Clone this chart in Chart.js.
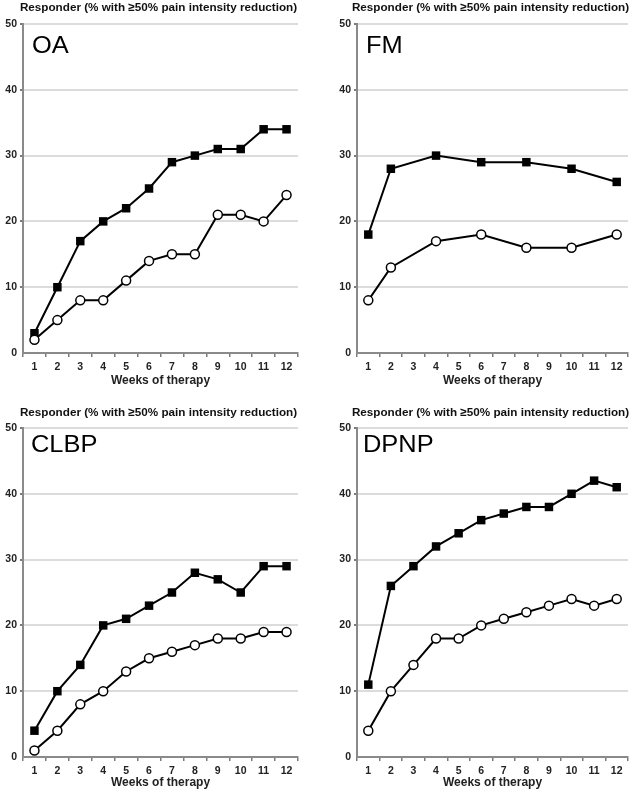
<!DOCTYPE html>
<html><head><meta charset="utf-8">
<script src="https://cdn.jsdelivr.net/npm/chart.js@4"></script>
<style>
html,body{margin:0;padding:0;background:#fff;overflow:hidden;width:634px;height:794px}
canvas{position:absolute}
</style></head><body>
<script>
// ---- data ----
const weeks = ['1','2','3','4','5','6','7','8','9','10','11','12'];
const yTickValues = [0, 10, 20, 30, 40, 50];
const yTitle = 'Responder (% with \u226550% pain intensity reduction)';
const xTitle = 'Weeks of therapy';
const panelNames = ['OA', 'FM', 'CLBP', 'DPNP'];

const oaActive   = [3, 10, 17, 20, 22, 25, 29, 30, 31, 31, 34, 34];
const oaPlacebo  = [2, 5, 8, 8, 11, 14, 15, 15, 21, 21, 20, 24];
const fmActive   = [18, 28, null, 30, null, 29, null, 29, null, 28, null, 26];
const fmPlacebo  = [8, 13, null, 17, null, 18, null, 16, null, 16, null, 18];
const clbpActive = [4, 10, 14, 20, 21, 23, 25, 28, 27, 25, 29, 29];
const clbpPlacebo= [1, 4, 8, 10, 13, 15, 16, 17, 18, 18, 19, 19];
const dpnpActive = [11, 26, 29, 32, 34, 36, 37, 38, 38, 40, 42, 41];
const dpnpPlacebo= [4, 10, 14, 18, 18, 20, 21, 22, 23, 24, 23, 24];

const seriesActive = [oaActive, fmActive, clbpActive, dpnpActive];
const seriesPlacebo = [oaPlacebo, fmPlacebo, clbpPlacebo, dpnpPlacebo];

// ---- layout (positions only) ----
const layouts = [
  {left:0,   top:0,   w:317, h:395, padTop:24, padRight:19, yW:23, xH:42, tPad:7, titleY:8,  labDx:9, labDy:29},
  {left:317, top:0,   w:317, h:395, padTop:24, padRight:2,  yW:40, xH:42, tPad:7, titleY:8,  labDx:9, labDy:29},
  {left:0,   top:390, w:317, h:404, padTop:38, padRight:19, yW:23, xH:37, tPad:4, titleY:23, labDx:8, labDy:24},
  {left:317, top:390, w:317, h:404, padTop:38, padRight:2,  yW:40, xH:37, tPad:4, titleY:23, labDx:6, labDy:24}
];

const FONT = "'Liberation Sans', Arial, Helvetica, sans-serif";

const decor = {
  id: 'decor',
  afterDraw(chart, args, opts) {
    const {ctx, chartArea} = chart;
    ctx.save();
    ctx.fillStyle = '#111';
    ctx.font = 'bold 11.7px ' + FONT;
    ctx.textAlign = 'center';
    ctx.textBaseline = 'middle';
    ctx.fillText(opts.title, (chartArea.left + chartArea.right) / 2 - 2, opts.titleY);
    ctx.restore();
    ctx.save();
    ctx.fillStyle = '#000';
    ctx.font = '24px ' + FONT;
    ctx.textAlign = 'left';
    ctx.textBaseline = 'alphabetic';
    ctx.translate(chartArea.left + opts.labDx, chartArea.top + opts.labDy);
    ctx.scale(1.06, 1);
    ctx.fillText(opts.label, 0, 0);
    ctx.restore();
  }
};

layouts.forEach((L, i) => {
  const cv = document.createElement('canvas');
  cv.width = L.w; cv.height = L.h;
  cv.style.left = L.left + 'px'; cv.style.top = L.top + 'px';
  cv.style.width = L.w + 'px'; cv.style.height = L.h + 'px';
  document.body.appendChild(cv);
  new Chart(cv, {
    type: 'line',
    data: {
      labels: weeks,
      datasets: [
        {
          label: 'Placebo',
          data: seriesPlacebo[i],
          borderColor: '#000', borderWidth: 2,
          pointStyle: 'circle', pointRadius: 4.5,
          pointBackgroundColor: '#fff', pointBorderColor: '#000', pointBorderWidth: 1.5,
          spanGaps: true, tension: 0
        },
        {
          label: 'Active',
          data: seriesActive[i],
          borderColor: '#000', borderWidth: 2,
          pointStyle: 'rect', pointRadius: 6,
          pointBackgroundColor: '#000', pointBorderColor: '#000', pointBorderWidth: 0,
          spanGaps: true, tension: 0
        }
      ]
    },
    options: {
      responsive: false, animation: false, devicePixelRatio: 1,
      layout: {padding: {top: L.padTop, right: L.padRight, left: 0, bottom: 0}},
      plugins: {
        legend: {display: false}, tooltip: {enabled: false}, title: {display: false},
        decor: {title: yTitle, label: panelNames[i], titleY: L.titleY, labDx: L.labDx, labDy: L.labDy}
      },
      scales: {
        x: {
          type: 'category', offset: true,
          afterFit: s => { s.height = L.xH; },
          grid: {offset: true, drawOnChartArea: false, drawTicks: true, tickLength: 4, color: '#7a7a7a', lineWidth: 1.5},
          border: {color: '#8a8a8a', width: 2},
          ticks: {font: {family: FONT, size: 10.5, weight: 'bold'}, color: '#222', padding: 4, maxRotation: 0, autoSkip: false},
          title: {display: true, text: xTitle, font: {family: FONT, size: 12, weight: 'bold'}, color: '#222', padding: {top: 0, bottom: L.tPad}}
        },
        y: {
          min: 0, max: 50,
          afterFit: s => { s.width = L.yW; },
          afterBuildTicks: s => { s.ticks = yTickValues.map(v => ({value: v})); },
          grid: {color: '#dcdcdc', lineWidth: c => (c.tick && c.tick.value === 0 ? 0 : 2), drawTicks: true, tickLength: 3, tickColor: '#7a7a7a'},
          border: {color: '#8a8a8a', width: 2},
          ticks: {font: {family: FONT, size: 10.5, weight: 'bold'}, color: '#222', padding: 3}
        }
      }
    },
    plugins: [decor]
  });
});
</script>
</body></html>
